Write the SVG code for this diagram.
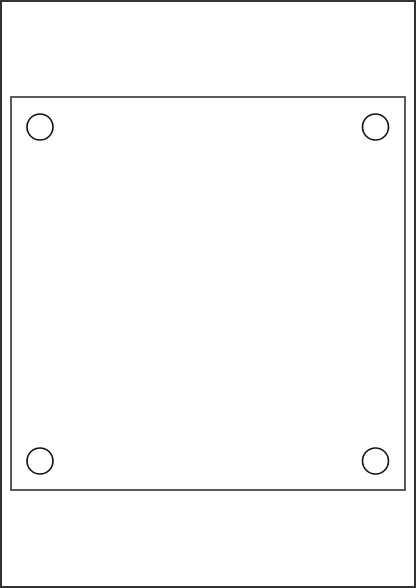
<svg xmlns="http://www.w3.org/2000/svg" width="416" height="588" viewBox="0 0 416 588">
<style>
.frame{fill:#fff;stroke:#333;stroke-width:2}
.plate{fill:#fff;stroke:#333;stroke-width:1.6}
.hole{fill:#fff;stroke:#111;stroke-width:1.6}
</style>
<rect class="frame" x="1" y="1" width="414" height="586"/>
<g id="plate">
<rect class="plate" x="11" y="97" width="394" height="393"/>
</g>
<g id="hole-tl"><circle class="hole" cx="40" cy="127" r="13"/></g>
<g id="hole-tr"><circle class="hole" cx="375.5" cy="127" r="13"/></g>
<g id="hole-bl"><circle class="hole" cx="40" cy="461" r="13"/></g>
<g id="hole-br"><circle class="hole" cx="375.5" cy="461" r="13"/></g>
<g id="connectors"/>
</svg>
